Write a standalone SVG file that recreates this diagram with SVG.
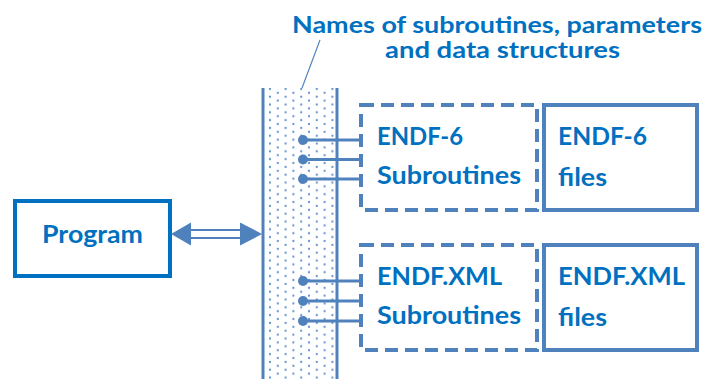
<svg xmlns="http://www.w3.org/2000/svg" width="717" height="379" viewBox="0 0 717 379">
  <style>
    .lbl { font-family: "Lato", "Liberation Sans", sans-serif; font-weight: 700; font-size: 25px; fill: #0070c0; }
    .ttl { font-size: 23px; }
    .dash { fill: #ffffff; stroke: #4f81bd; stroke-width: 4; stroke-dasharray: 13 7; }
    .solid { fill: #ffffff; stroke: #4f81bd; stroke-width: 4; }
    .wire { stroke: #4f81bd; stroke-width: 3; fill: none; }
    .dot { fill: #4f81bd; }
  </style>
  <defs>
    <!-- fine dotted fill of the interface column -->
    <pattern id="dots" patternUnits="userSpaceOnUse" x="266.1" y="87" width="15.6" height="7.8">
      <circle cx="3.9" cy="1.95" r="1.1" fill="#5d8fd0"/>
      <circle cx="11.7" cy="5.85" r="1.1" fill="#5d8fd0"/>
    </pattern>
  </defs>

  <rect width="717" height="379" fill="#ffffff"/>

  <!-- title and its leader line -->
  <g id="title">
    <text class="lbl ttl" x="292" y="33" textLength="410" lengthAdjust="spacingAndGlyphs">Names of subroutines, parameters</text>
    <text class="lbl ttl" x="385" y="58" textLength="235" lengthAdjust="spacingAndGlyphs">and data structures</text>
    <line x1="320" y1="40" x2="302" y2="88" stroke="#4f81bd" stroke-width="1.2"/>
  </g>

  <!-- interface column -->
  <g id="interface">
    <rect x="264" y="88" width="72" height="300" fill="url(#dots)"/>
    <line x1="263" y1="88" x2="263" y2="379" stroke="#4f81bd" stroke-width="3"/>
    <line x1="337" y1="88" x2="337" y2="379" stroke="#4f81bd" stroke-width="3"/>
  </g>

  <!-- calling program -->
  <g id="program">
    <rect x="15" y="201" width="155" height="75" fill="#ffffff" stroke="#0070c0" stroke-width="4"/>
    <text class="lbl" x="42" y="243" textLength="101" lengthAdjust="spacingAndGlyphs">Program</text>
  </g>

  <!-- ENDF-6 subroutines and files -->
  <g id="endf6-sub">
    <rect class="dash" x="361" y="105" width="176" height="105"/>
    <text class="lbl" x="377" y="145" textLength="86" lengthAdjust="spacingAndGlyphs">ENDF-6</text>
    <text class="lbl" x="377" y="184" textLength="144" lengthAdjust="spacingAndGlyphs">Subroutines</text>
  </g>
  <g id="endf6-files">
    <rect class="solid" x="544" y="105" width="153" height="105"/>
    <text class="lbl" x="558" y="145" textLength="89" lengthAdjust="spacingAndGlyphs">ENDF-6</text>
    <text class="lbl" x="558" y="186" textLength="49" lengthAdjust="spacingAndGlyphs">files</text>
  </g>

  <!-- ENDF.XML subroutines and files -->
  <g id="endfxml-sub">
    <rect class="dash" x="361" y="245" width="176" height="105"/>
    <text class="lbl" x="377" y="285" textLength="125" lengthAdjust="spacingAndGlyphs">ENDF.XML</text>
    <text class="lbl" x="377" y="324" textLength="144" lengthAdjust="spacingAndGlyphs">Subroutines</text>
  </g>
  <g id="endfxml-files">
    <rect class="solid" x="544" y="245" width="153" height="105"/>
    <text class="lbl" x="558" y="285" textLength="127" lengthAdjust="spacingAndGlyphs">ENDF.XML</text>
    <text class="lbl" x="558" y="326" textLength="49" lengthAdjust="spacingAndGlyphs">files</text>
  </g>

  <!-- connectors -->
  <g id="connectors">
    <!-- two-way arrow between program and interface -->
    <g fill="#4f81bd" stroke="none">
      <polygon points="171,234 191,222.5 191,245.5"/>
      <polygon points="262,234 240,222.5 240,245.5"/>
    </g>
    <line x1="190" y1="230" x2="241" y2="230" stroke="#4f81bd" stroke-width="2"/>
    <line x1="190" y1="238" x2="241" y2="238" stroke="#4f81bd" stroke-width="2"/>

    <!-- entry points into the ENDF-6 subroutines -->
    <path class="wire" d="M303,140 H361 M361,136.5 V143.5 M303,159.5 H361 M361,156 V163 M303,179 H361 M361,175.5 V182.5"/>
    <circle class="dot" cx="303" cy="140" r="5"/>
    <circle class="dot" cx="303" cy="159.5" r="5"/>
    <circle class="dot" cx="303" cy="179" r="5"/>

    <!-- entry points into the ENDF.XML subroutines -->
    <path class="wire" d="M303,281 H361 M361,277.5 V284.5 M303,301 H361 M361,297.5 V304.5 M303,321 H361 M361,317.5 V324.5"/>
    <circle class="dot" cx="303" cy="281" r="5"/>
    <circle class="dot" cx="303" cy="301" r="5"/>
    <circle class="dot" cx="303" cy="321" r="5"/>
  </g>
</svg>
